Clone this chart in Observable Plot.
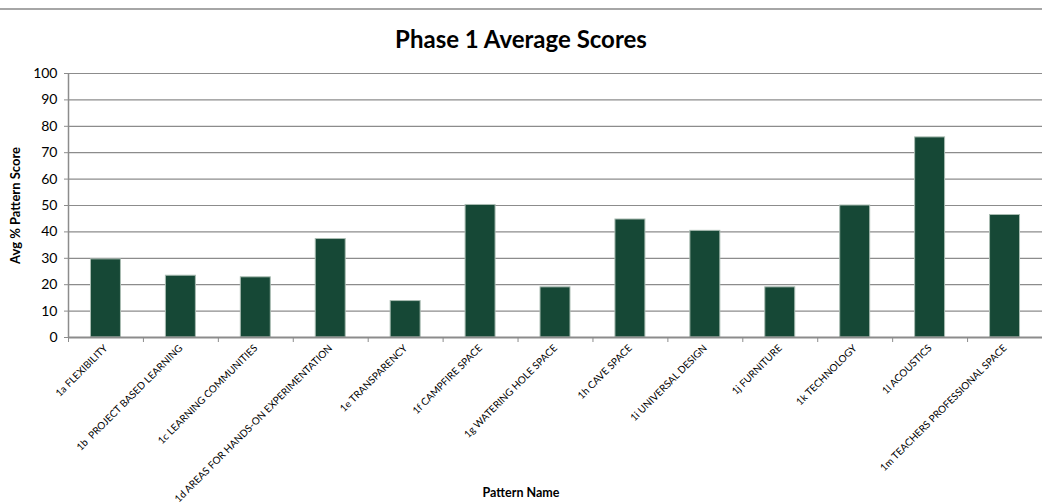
<!DOCTYPE html>
<html>
<head>
<meta charset="utf-8">
<script src="https://cdn.jsdelivr.net/npm/d3@7"></script>
<script src="https://cdn.jsdelivr.net/npm/@observablehq/plot@0.6"></script>
<style>
  html, body { margin: 0; padding: 0; background: #fff; }
  body { width: 1042px; height: 504px; overflow: hidden; position: relative; font-family: Lato, "Open Sans", sans-serif; }
  .topline { position: absolute; left: 0; top: 8px; width: 1042px; height: 0; border-top: 2px solid #a6a6a6; }
  h2 { position: absolute; left: 0; top: 25px; width: 1042px; margin: 0; text-align: center;
       font: bold 24px Lato, sans-serif; color: #000; line-height: 28px; }
  .xtitle { position: absolute; left: 0; top: 485px; width: 1042px; text-align: center;
            font: bold 12.5px Lato, sans-serif; color: #000; }
  #chart { position: absolute; left: 0; top: 60px; }
  #chart svg text { white-space: pre; }
</style>
</head>
<body>
<div class="topline"></div>
<h2>Phase 1 Average Scores</h2>
<div id="chart"></div>
<div class="xtitle">Pattern Name</div>
<script>
// Pattern names along the x axis
const patterns = [
  "1a FLEXIBILITY",
  "1b  PROJECT BASED LEARNING",
  "1c LEARNING COMMUNITIES",
  "1d AREAS FOR HANDS-ON EXPERIMENTATION",
  "1e TRANSPARENCY",
  "1f CAMPFIRE SPACE",
  "1g WATERING HOLE SPACE",
  "1h CAVE SPACE",
  "1i UNIVERSAL DESIGN",
  "1j FURNITURE",
  "1k TECHNOLOGY",
  "1l ACOUSTICS",
  "1m TEACHERS PROFESSIONAL SPACE"
];

// Average % pattern score per pattern
const scores = [29.6, 23.4, 22.8, 37.3, 13.8, 50.2, 19.0, 44.7, 40.4, 19.0, 50.0, 75.8, 46.4];

// Y axis ticks
const yTicks = [0, 10, 20, 30, 40, 50, 60, 70, 80, 90, 100];

// Each pattern occupies one unit slot; the bar takes the middle 40% of it
const rows = patterns.map((name, i) => ({name, i, score: scores[i]}));
const slotEdges = d3.range(patterns.length + 1);
const slotCentres = rows.map(d => d.i + 0.5);

const chart = Plot.plot({
  width: 1042,
  height: 444,
  marginTop: 13,
  marginBottom: 167,
  marginLeft: 68,
  marginRight: 0,
  style: {fontFamily: "Lato, sans-serif", color: "#000", background: "#fff"},
  x: {type: "linear", domain: [0, patterns.length]},
  y: {domain: [0, 100]},
  marks: [
    // horizontal gridlines
    Plot.ruleY(yTicks.filter(v => v > 0), {stroke: "#8c8c8c", strokeWidth: 1.2}),
    // y axis: line, short ticks and numbers
    Plot.ruleX([0], {stroke: "#8c8c8c", strokeWidth: 1.5}),
    Plot.axisY({ticks: yTicks, tickSize: 4, tickPadding: 7, fontSize: 14, stroke: "#8c8c8c",
                label: "Avg % Pattern Score", labelAnchor: "center", labelArrow: "none", labelOffset: 58}),
    // bars
    Plot.rectY(rows, {x1: d => d.i + 0.3, x2: d => d.i + 0.7, y: "score",
                      fill: "#164836", stroke: "#a9bcb2", strokeWidth: 1}),
    // x axis line and slot boundary ticks
    Plot.ruleY([0], {stroke: "#8c8c8c", strokeWidth: 2}),
    Plot.axisX({ticks: slotEdges, tickSize: 5, tickFormat: () => "", stroke: "#8c8c8c", label: null}),
    // rotated pattern names under each bar
    Plot.axisX({ticks: slotCentres, tickSize: 0, tickPadding: 9, tickRotate: -45, fontSize: 10,
                tickFormat: v => patterns[Math.floor(v)], label: null})
  ]
});

// bold y axis title
d3.select(chart).selectAll("g[aria-label='y-axis label'] text")
  .style("font-weight", "bold").style("font-size", "13px");

document.getElementById("chart").appendChild(chart);
</script>
</body>
</html>
